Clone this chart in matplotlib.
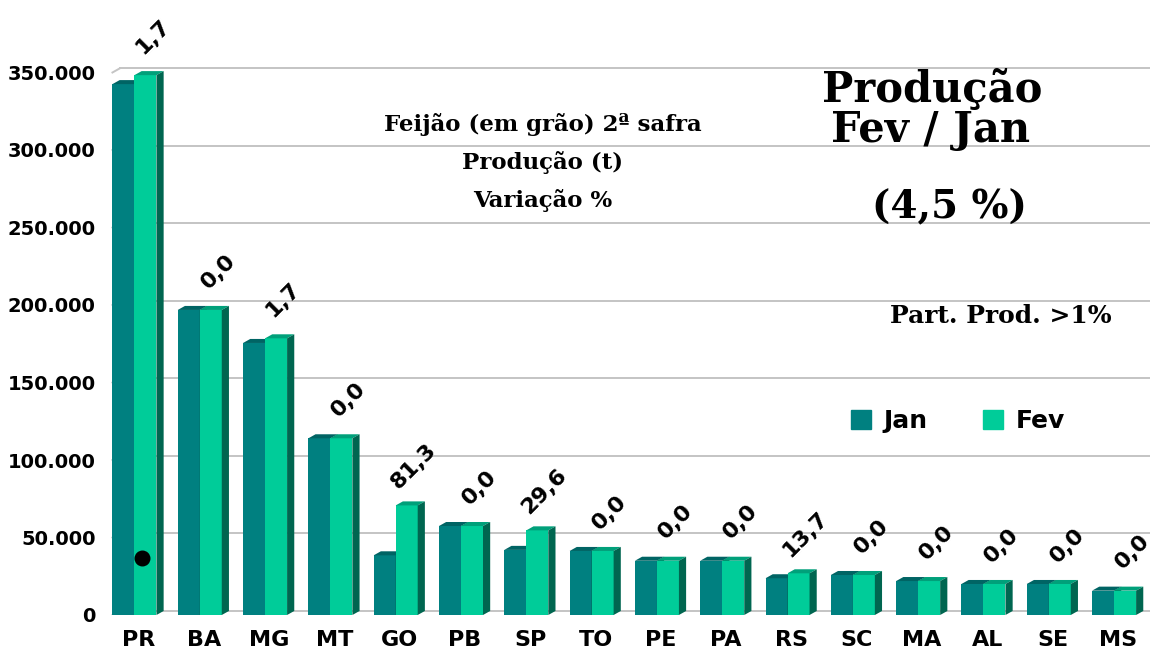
import matplotlib.pyplot as plt
from matplotlib.patches import Polygon
from matplotlib.ticker import FuncFormatter

# data (t)
states = ['PR', 'BA', 'MG', 'MT', 'GO', 'PB', 'SP', 'TO', 'PE', 'PA', 'RS', 'SC', 'MA', 'AL', 'SE', 'MS']
jan = [342500, 196800, 175500, 114000, 38500, 57400, 42000, 41300, 35000, 35000, 23700, 25800, 21900, 20000, 20000, 15700]
fev = [348300, 196800, 178500, 114000, 70700, 57400, 54600, 41300, 35000, 35000, 26900, 25800, 21900, 20000, 20000, 15700]
var_pct = ['1,7', '0,0', '1,7', '0,0', '81,3', '0,0', '29,6', '0,0', '0,0', '0,0', '13,7', '0,0', '0,0', '0,0', '0,0', '0,0']
yticks = [0, 50000, 100000, 150000, 200000, 250000, 300000, 350000]
dot = (0.12, 37000)   # stray black dot on the PR bar

sans = 'DejaVu Sans'
serif = 'DejaVu Serif'

c_jan, c_jan_top = '#008080', '#006464'
c_fev, c_fev_top, c_side = '#00CC99', '#00A07A', '#006650'

W, H = 1157, 650
fig = plt.figure(figsize=(W / 100, H / 100), dpi=100)
ax = fig.add_axes([108 / W, 35 / H, (1150 - 108) / W, (615 - 57) / H])

bw = 0.337     # bar width
dx = 0.11      # 3d depth in x
dy = 2600      # 3d depth in y


def bar3d(x0, h, face, top):
    ax.add_patch(Polygon([(x0, 0), (x0 + bw, 0), (x0 + bw, h), (x0, h)],
                         closed=True, facecolor=face, edgecolor='none', zorder=3))
    ax.add_patch(Polygon([(x0, h), (x0 + bw, h), (x0 + bw + dx, h + dy), (x0 + dx, h + dy)],
                         closed=True, facecolor=top, edgecolor='none', zorder=3))
    ax.add_patch(Polygon([(x0 + bw, 0), (x0 + bw + dx, dy), (x0 + bw + dx, h + dy), (x0 + bw, h)],
                         closed=True, facecolor=c_side, edgecolor='none', zorder=3))


for i in range(len(states)):
    bar3d(i - bw, jan[i], c_jan, c_jan_top)
    bar3d(i, fev[i], c_fev, c_fev_top)
    ax.text(i + 0.28, fev[i] + 25000, var_pct[i], rotation=45, ha='center', va='center',
            fontsize=16, fontweight='bold', family=sans, clip_on=False)

ax.scatter([dot[0]], [dot[1]], s=110, color='black', zorder=4)

# back-wall grid
for v in yticks:
    ax.plot([-bw + dx, 15.6], [v + dy, v + dy], color='#C4C4C4', lw=1.4, zorder=1)
    ax.plot([-bw, -bw + dx], [v, v + dy], color='#C4C4C4', lw=1.4, zorder=1)

ax.set_xlim(-0.405, 15.55)
ax.set_ylim(0, 360000)
ax.set_yticks(yticks)
ax.yaxis.set_major_formatter(FuncFormatter(lambda v, p: '{:,.0f}'.format(v).replace(',', '.')))
ax.set_xticks([i + 0.06 for i in range(len(states))])
ax.set_xticklabels(states)
ax.tick_params(axis='both', length=0)
ax.tick_params(axis='y', pad=9)
ax.tick_params(axis='x', pad=11)
for lab in ax.get_yticklabels():
    lab.set_fontsize(14)
    lab.set_fontweight('bold')
    lab.set_family(sans)
for lab in ax.get_xticklabels():
    lab.set_fontsize(16)
    lab.set_fontweight('bold')
    lab.set_family(sans)
for s in ax.spines.values():
    s.set_visible(False)

# texts
fig.text(543 / W, 1 - 125 / H, 'Feijão (em grão) 2ª safra', ha='center', va='center',
         fontsize=16.5, fontweight='bold', family=serif)
fig.text(543 / W, 1 - 162 / H, 'Produção (t)', ha='center', va='center',
         fontsize=16.5, fontweight='bold', family=serif)
fig.text(543 / W, 1 - 200 / H, 'Variação %', ha='center', va='center',
         fontsize=16.5, fontweight='bold', family=serif)
fig.text(932 / W, 1 - 90 / H, 'Produção', ha='center', va='center',
         fontsize=30, fontweight='bold', family=serif)
fig.text(931 / W, 1 - 130 / H, 'Fev / Jan', ha='center', va='center',
         fontsize=30, fontweight='bold', family=serif)
fig.text(949 / W, 1 - 207 / H, '(4,5 %)', ha='center', va='center',
         fontsize=28, fontweight='bold', family=serif)
fig.text(1001 / W, 1 - 316 / H, 'Part. Prod. >1%', ha='center', va='center',
         fontsize=18, fontweight='bold', family=serif)

# legend
h1 = plt.Rectangle((0, 0), 1, 1, color=c_jan)
h2 = plt.Rectangle((0, 0), 1, 1, color=c_fev)
fig.legend([h1, h2], ['Jan', 'Fev'], loc='center', bbox_to_anchor=(958 / W, 1 - 421 / H),
           ncol=2, frameon=False, handlelength=0.8, handleheight=0.8, columnspacing=2.2,
           handletextpad=0.5, prop={'family': sans, 'weight': 'bold', 'size': 18})

fig.savefig('out.png', dpi=100)
